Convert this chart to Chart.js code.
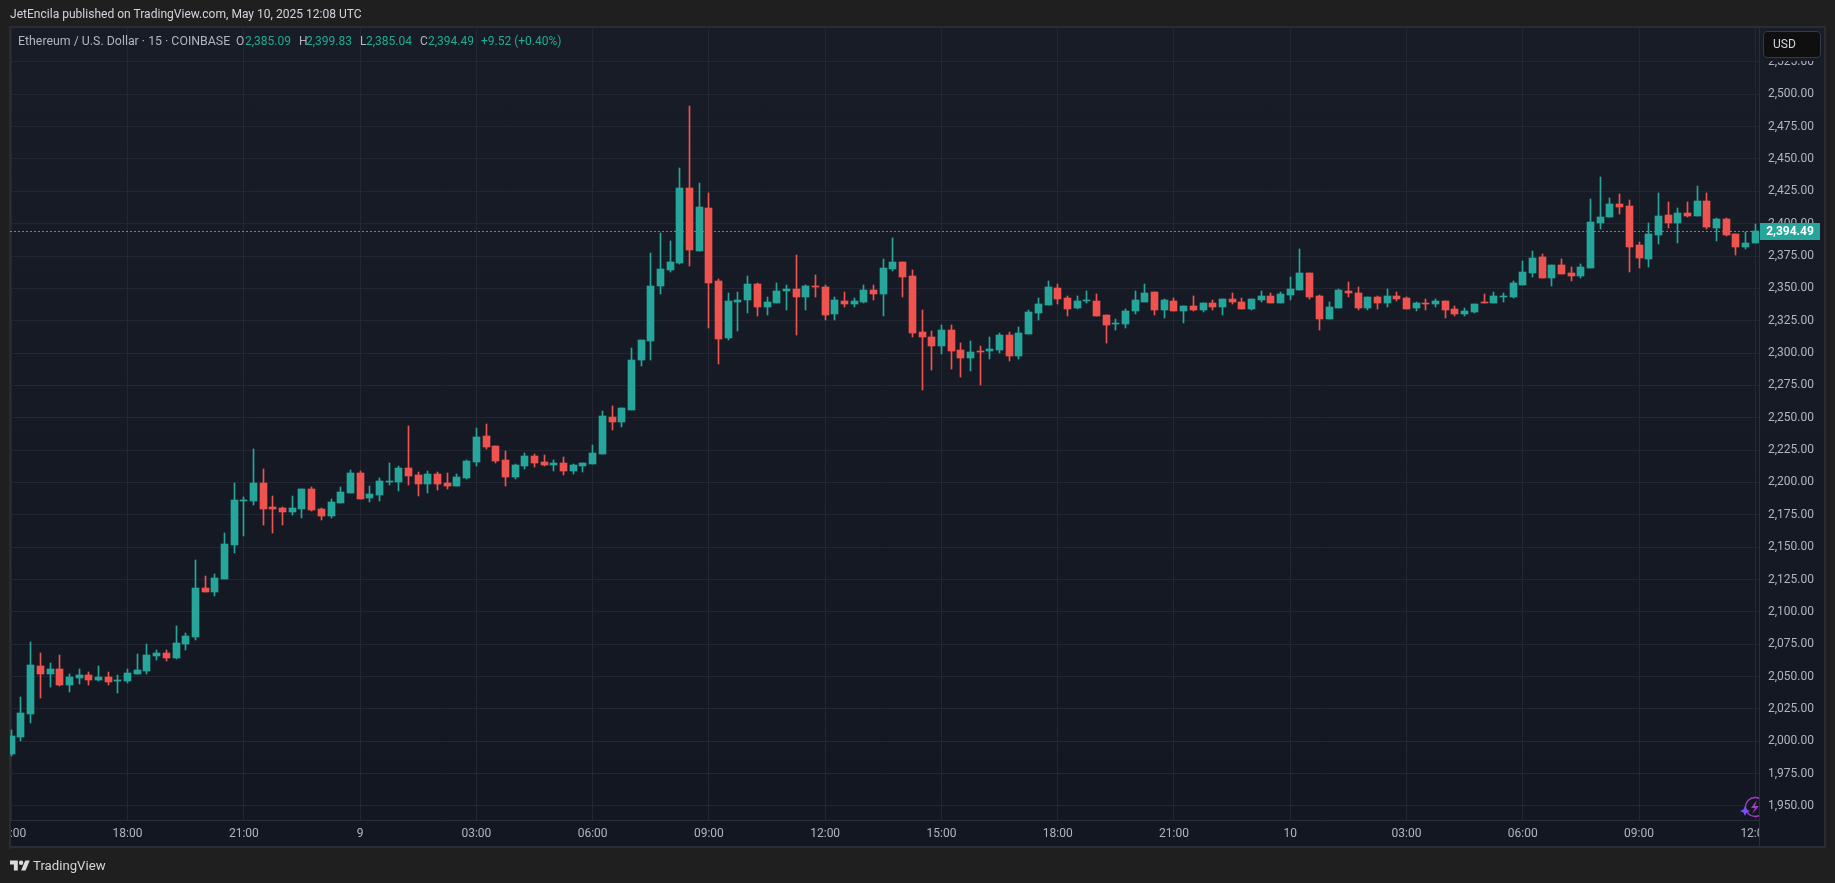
<!DOCTYPE html>
<html>
<head>
<meta charset="utf-8">
<title>ETHUSD 15</title>
<script src="https://cdn.jsdelivr.net/npm/chart.js@4/dist/chart.umd.min.js"></script>
<style>
    html, body { margin: 0; padding: 0; background: #1f1f1f; overflow: hidden; }
    body { width: 1835px; height: 883px; position: relative; font-family: Roboto, sans-serif; }
    #pane { position: absolute; left: 9px; top: 26px; width: 1813px; height: 818px; border: 2px solid #2a2c33;
            background: linear-gradient(#181c27, #131722); }
    #chart { position: absolute; left: 0; top: 0; }
    .over { position: absolute; z-index: 2; }
    #published { left: 10px; top: 7px; font-size: 12.05px; line-height: 15px; color: #d1d4dc; white-space: nowrap; }
    #legend span { position: absolute; top: 34px; font-size: 12px; line-height: 15px; white-space: nowrap; color: #b2b5be; z-index: 2; }
    #legend span.name { font-size: 12.35px; }
    #legend span.val { color: #22ab94; }
    #usd { left: 1763px; top: 31px; width: 56px; height: 25px; background: #0f0f0f; border: 1px solid #363a45; border-radius: 4px;
           color: #d1d4dc; font-size: 12px; line-height: 25px; text-indent: 9px; box-shadow: 0 3px 0 #171b26; }
    #leftEdge { left: 0; top: 821px; width: 9px; height: 28px; background: #1f1f1f; border-right: 2px solid #2a2c33; }
    #corner { left: 1759px; top: 821px; width: 64px; height: 25px; background: #131722; border-left: 1px solid #2a2e39; }
    #bolt { left: 1740px; top: 796px; width: 19px; height: 24px; overflow: hidden; }
    #logo { left: 10px; top: 860px; width: 20px; height: 11px; }
    #brand { left: 33px; top: 858px; font-size: 13.2px; line-height: 16px; color: #d6d6d6; }
</style>
</head>
<body>
<div id="pane"></div>
<canvas id="chart" width="1835" height="883"></canvas>

<div class="over" id="published">JetEncila published on TradingView.com, May 10, 2025 12:08 UTC</div>
<div id="legend"></div>
<div class="over" id="usd">USD</div>
<div class="over" id="leftEdge"></div>
<div class="over" id="corner"></div>
<svg class="over" id="bolt" viewBox="0 0 19 24">
    <circle cx="15" cy="11" r="9.5" fill="#131722" stroke="#a63fc4" stroke-width="1.4"/>
    <path d="M17 4 L11 12 H15 L12 18 L19 10 H15 Z" fill="#a63fc4"/>
    <path d="M5 10 L6.6 13.4 L10 15 L6.6 16.6 L5 20 L3.4 16.6 L0 15 L3.4 13.4 Z" fill="#7b4dff"/>
</svg>
<svg class="over" id="logo" viewBox="0 4 36 18">
    <path fill="#dbdbdb" d="M14 22H7V11H0V4h14v18zM28 22h-8l7.5-18h8L28 22z"/>
    <circle fill="#dbdbdb" cx="20" cy="8" r="4"/>
</svg>
<div class="over" id="brand">TradingView</div>

<script>
// 15 minute candles, first one is 15:00 on May 8, last one is 12:00 on May 10
const opens = [
    1990.2, 2003.3, 2021.1, 2058.2, 2052, 2055.9, 2043.5, 2048.9, 2051.2, 2047.4,
    2049.7, 2047.2, 2046.6, 2052, 2054.3, 2065.9, 2068.2, 2064.4, 2075.2, 2080.6,
    2118.5, 2115.4, 2125.4, 2151.7, 2186.2, 2185.7, 2199.6, 2181.1, 2180.3, 2177.2,
    2179.6, 2195, 2179.6, 2174.2, 2184.2, 2191.9, 2207.4, 2188.1, 2190.4, 2200.9,
    2200.4, 2211.2, 2205.8, 2198.9, 2206.6, 2199.7, 2197.3, 2203.5, 2215.9, 2236,
    2228.3, 2217.4, 2204.3, 2212.8, 2220.5, 2215.9, 2213.6, 2215.1, 2208.9, 2212.8,
    2214.3, 2222, 2250.6, 2246.7, 2256, 2294.6, 2309.3, 2351.8, 2364.2, 2369.6,
    2427.6, 2378.9, 2412.1, 2355.7, 2311.6, 2339.5, 2341, 2353.4, 2335.6, 2338.7,
    2348, 2349.5, 2343.3, 2351.8, 2351, 2330.2, 2340.2, 2337.9, 2339.5, 2348.7,
    2345.6, 2365, 2370.4, 2359.5, 2316.3, 2312.4, 2305.5, 2317.8, 2302.4, 2296.2,
    2301.6, 2301.6, 2302.4, 2314, 2297.7, 2314.7, 2331, 2337.1, 2350.3, 2342.6,
    2334.8, 2340.2, 2340.2, 2329.4, 2322.5, 2322.5, 2332.5, 2339.5, 2347.2, 2333.3,
    2340.2, 2332.5, 2336.4, 2333.3, 2338.7, 2335.6, 2341.8, 2339.5, 2334, 2341,
    2344.1, 2338.7, 2344.9, 2348.7, 2361.9, 2344.1, 2326.3, 2334.8, 2347.9, 2346.4,
    2334.8, 2343.3, 2338.7, 2344.1, 2342.6, 2334.8, 2338.7, 2337.9, 2340.2, 2334,
    2330.2, 2331.7, 2339.5, 2338.7, 2343.3, 2343.3, 2352.6, 2361.9, 2374.2, 2358,
    2368.1, 2361.9, 2359.6, 2365.7, 2400.5, 2405.1, 2415.2, 2413.7, 2383.5, 2372.7,
    2391.2, 2406.7, 2400.5, 2408.2, 2405.9, 2417.5, 2396.6, 2403.6, 2392, 2382,
    2385.09
];
const highs = [
    2008.7, 2034.2, 2076.7, 2068.2, 2060.5, 2066.7, 2052, 2055.9, 2053.5, 2058.2,
    2053.5, 2051.2, 2055.9, 2067.5, 2075.2, 2070.5, 2070.5, 2089.1, 2083.7, 2140.1,
    2127.7, 2129.3, 2161, 2199.6, 2188.8, 2225.9, 2210.4, 2189.6, 2181.1, 2189.6,
    2195, 2196.6, 2180.3, 2187.3, 2196.6, 2209.7, 2208.9, 2197.3, 2203.5, 2215.1,
    2212.8, 2243.7, 2208.2, 2208.9, 2208.2, 2207.4, 2206.6, 2217.4, 2242.2, 2245.3,
    2228.3, 2224.4, 2214.3, 2222.8, 2222.1, 2221.3, 2217.4, 2219.8, 2214.3, 2215.1,
    2229, 2255.2, 2259.1, 2257.6, 2303.9, 2310.1, 2377.3, 2392.8, 2386.6, 2443,
    2490.9, 2431.4, 2423.7, 2357.2, 2346.4, 2347.2, 2359.6, 2354.1, 2343.3, 2354.1,
    2352.6, 2375.8, 2352.6, 2360.3, 2352.6, 2343.3, 2347.2, 2342.6, 2352.6, 2352.6,
    2372.7, 2388.9, 2370.4, 2364.2, 2333.3, 2317.1, 2321.7, 2321.7, 2307.8, 2309.3,
    2305.5, 2312.4, 2315.5, 2316.3, 2320.1, 2333.3, 2342.6, 2355.7, 2353.4, 2344.1,
    2344.1, 2347.9, 2345.6, 2329.4, 2326.3, 2334, 2347.9, 2353.4, 2347.2, 2341.8,
    2342.6, 2336.4, 2344.1, 2338.7, 2341, 2341.8, 2346.4, 2342.6, 2341.8, 2347.9,
    2346.4, 2347.2, 2358.8, 2380.4, 2361.9, 2344.9, 2339.5, 2349.5, 2354.9, 2351.1,
    2343.3, 2344.1, 2349.5, 2347.2, 2343.3, 2339.5, 2341.8, 2341.8, 2340.2, 2336.4,
    2334.8, 2337.9, 2345.6, 2347.2, 2346.4, 2355.7, 2371.1, 2378.9, 2376.6, 2368.1,
    2372.7, 2366.5, 2368.8, 2419, 2436, 2419.8, 2422.9, 2418.3, 2385.8, 2400.5,
    2423.7, 2416.7, 2412.1, 2416.7, 2429.1, 2423.7, 2404.4, 2404.4, 2392, 2393.6,
    2399.83
];
const lows = [
    1988.9, 2000.2, 2014.1, 2033.5, 2042, 2042.7, 2038.1, 2044.3, 2043.5, 2046.6,
    2043.5, 2037.3, 2045, 2052, 2052, 2062.8, 2062, 2063.6, 2070.5, 2078.3,
    2115.4, 2112.3, 2125.4, 2145.5, 2158.7, 2182.6, 2167.2, 2161, 2167.2, 2174.9,
    2172.6, 2178, 2171, 2172.6, 2184.2, 2191.9, 2187.3, 2185, 2185.7, 2198.1,
    2193.5, 2198.1, 2189.6, 2191.9, 2194.2, 2195, 2197.3, 2202.7, 2212.8, 2225.9,
    2215.1, 2197.3, 2202.7, 2210.5, 2212, 2212.8, 2208.9, 2205.8, 2206.6, 2208.2,
    2214.3, 2222, 2240.5, 2242.9, 2256, 2290, 2294.6, 2345.6, 2362.6, 2368.8,
    2367.3, 2378.9, 2319.4, 2291.5, 2310.1, 2317.1, 2331, 2328.6, 2329.4, 2338.7,
    2333.3, 2314, 2333.3, 2343.3, 2325.6, 2325.6, 2335.6, 2335.6, 2338.7, 2341,
    2328.6, 2363.4, 2343.3, 2312.4, 2271.4, 2286.9, 2299.3, 2287.7, 2281.5, 2286.1,
    2275.3, 2295.4, 2300, 2293.9, 2295.4, 2314.7, 2325.5, 2337.1, 2337.9, 2328.6,
    2334, 2338.7, 2328.6, 2307.8, 2317.8, 2319.4, 2330.2, 2339.5, 2329.4, 2327.1,
    2332.5, 2323.2, 2332.5, 2331.7, 2333.3, 2329.4, 2337.9, 2334, 2333.3, 2339.5,
    2338.7, 2338.7, 2341, 2348.7, 2341.8, 2317.8, 2326.3, 2334.8, 2343.3, 2333.3,
    2333.3, 2334, 2335.6, 2340.2, 2334, 2332.5, 2333.3, 2335.6, 2327.1, 2328.6,
    2328.6, 2330.9, 2338.7, 2338.7, 2339.5, 2342.6, 2352.6, 2358.8, 2358, 2351.8,
    2361.1, 2355.7, 2358, 2365.7, 2395.9, 2405.1, 2407.5, 2362.6, 2365.7, 2366.5,
    2384.3, 2396.6, 2385, 2405.1, 2405.9, 2395.9, 2386.6, 2390.5, 2375.8, 2380.4,
    2385.04
];
const closes = [
    2004.1, 2021.9, 2059, 2052, 2055.9, 2043.5, 2049.7, 2051.2, 2047.4, 2049.7,
    2045.8, 2047.4, 2052.8, 2055.1, 2066.7, 2068.2, 2064.4, 2075.9, 2081.4, 2118.5,
    2115.4, 2126.2, 2152.5, 2186.5, 2186.4, 2199.6, 2179.5, 2179.5, 2177.2, 2180.3,
    2195, 2178.8, 2174.2, 2185, 2192.7, 2207.4, 2187.3, 2191.2, 2201.2, 2201.1,
    2211.2, 2205.1, 2198.9, 2206.6, 2198.9, 2197.3, 2204.3, 2216.7, 2235.2, 2227.5,
    2216.7, 2204.3, 2213.6, 2220.5, 2215.1, 2213.6, 2215.1, 2208.9, 2213.6, 2215.1,
    2222.8, 2251.4, 2246.7, 2257.6, 2294.6, 2310.1, 2351.8, 2365, 2370.4, 2427.6,
    2379.6, 2412.9, 2354.1, 2310.9, 2340.2, 2341, 2353.4, 2335.6, 2339.5, 2348,
    2349.5, 2343.3, 2351.8, 2351, 2329.4, 2341, 2337.9, 2340.2, 2348.7, 2345.6,
    2365.7, 2370.4, 2358.8, 2315.5, 2312.4, 2305.5, 2317.8, 2301.6, 2296.2, 2300.8,
    2300.8, 2303.1, 2314, 2297.7, 2315.5, 2331.7, 2337.9, 2351.1, 2341.8, 2334,
    2340.2, 2341, 2328.6, 2321.7, 2323.2, 2332.5, 2341, 2346.4, 2333.3, 2341,
    2332.5, 2336.4, 2333.3, 2338.7, 2335.6, 2341.8, 2339.5, 2334, 2341.8, 2344.1,
    2338.7, 2345.6, 2349.5, 2361.9, 2343.3, 2326.3, 2335.6, 2348.7, 2346.4, 2334.8,
    2343.3, 2338.7, 2344.1, 2341.8, 2334, 2338.7, 2337.9, 2340.2, 2333.3, 2330.2,
    2332.5, 2337.9, 2338.7, 2344.1, 2344.1, 2354.1, 2362.6, 2373.5, 2358, 2368.1,
    2361.1, 2359.6, 2366.5, 2401.3, 2405.1, 2415.2, 2412.9, 2382, 2373.5, 2392,
    2405.9, 2400.5, 2408.2, 2405.9, 2417.5, 2397.4, 2403.6, 2391.2, 2382, 2384.97,
    2394.49
];

// price axis
const priceTicks = [
    1950, 1975, 2000, 2025, 2050, 2075, 2100, 2125, 2150, 2175, 2200, 2225,
    2250, 2275, 2300, 2325, 2350, 2375, 2400, 2425, 2450, 2475, 2500, 2525
];
// time axis, one label every 12 candles
const timeTickIndex = [0, 12, 24, 36, 48, 60, 72, 84, 96, 108, 120, 132, 144, 156, 168, 180];
const timeTickLabels = ['15:00', '18:00', '21:00', '9', '03:00', '06:00', '09:00', '12:00',
                        '15:00', '18:00', '21:00', '10', '03:00', '06:00', '09:00', '12:00'];

const UP = '#26a69a';
const DOWN = '#ef5350';
const GRID = '#232733';
const AXIS = '#2a2e39';
const TEXT = '#b2b5be';
const X_MIN = -0.134;
const X_MAX = 180.38;

const lastIndex = closes.length - 1;
const candleColors = closes.map((c, i) => (c >= opens[i] ? UP : DOWN));
const money = (v) => v.toLocaleString('en-US', { minimumFractionDigits: 2, maximumFractionDigits: 2 });

function fillLegend() {
    const change = closes[lastIndex] - closes[lastIndex - 1];
    const pct = change / closes[lastIndex - 1] * 100;
    const parts = [
        [18, 'Ethereum / U.S. Dollar · 15 · COINBASE', 'name'],
        [236, 'O', ''], [245, money(opens[lastIndex]), 'val'],
        [299, 'H', ''], [306, money(highs[lastIndex]), 'val'],
        [360, 'L', ''], [366, money(lows[lastIndex]), 'val'],
        [420, 'C', ''], [428, money(closes[lastIndex]), 'val'],
        [481, '+' + change.toFixed(2) + ' (+' + pct.toFixed(2) + '%)', 'val']
    ];
    const legend = document.getElementById('legend');
    parts.forEach(([left, text, cls]) => {
        const span = document.createElement('span');
        span.textContent = text;
        span.className = cls;
        span.style.left = left + 'px';
        legend.appendChild(span);
    });
}

// tradingview snaps candles to whole pixels, so do the same after the scales placed them
const snapCandles = {
    id: 'snapCandles',
    afterDatasetsUpdate(chart) {
        chart.getSortedVisibleDatasetMetas().forEach((meta) => {
            meta.data.forEach((el) => {
                if (meta.type === 'bar') {
                    el.x = Math.floor(el.x) + 0.5;
                    el.y = Math.round(el.y);
                    el.base = Math.round(el.base);
                    if (el.base === el.y) el.base = el.y + 1;
                    el.height = el.base - el.y;
                } else {
                    el.y = Math.round(el.y) + 0.5;
                }
            });
        });
    }
};

const priceTag = {
    id: 'priceTag',
    afterDraw(chart) {
        const ctx = chart.ctx;
        const y = Math.round(chart.scales.y.getPixelForValue(closes[lastIndex])) + 0.5;
        ctx.save();
        ctx.fillStyle = UP;
        ctx.fillRect(1760, y - 8.5, 60, 17);
        ctx.fillStyle = '#ffffff';
        ctx.font = 'bold 12px Roboto';
        ctx.textAlign = 'center';
        ctx.textBaseline = 'middle';
        ctx.fillText(money(closes[lastIndex]), 1790, y + 0.5);
        ctx.restore();
    }
};

fillLegend();

new Chart(document.getElementById('chart'), {
    data: {
        datasets: [
            {
                type: 'bar',
                order: 1,
                grouped: false,
                barThickness: 7,
                backgroundColor: candleColors,
                data: opens.map((o, i) => ({ x: i, y: [o, closes[i]] }))
            },
            {
                type: 'bar',
                order: 2,
                grouped: false,
                barThickness: 1,
                backgroundColor: candleColors,
                data: lows.map((l, i) => ({ x: i, y: [l, highs[i]] }))
            },
            {
                type: 'line',
                order: 3,
                borderColor: UP,
                borderWidth: 1,
                borderDash: [2, 2],
                pointRadius: 0,
                data: [{ x: X_MIN, y: closes[lastIndex] }, { x: X_MAX, y: closes[lastIndex] }]
            }
        ]
    },
    options: {
        responsive: false,
        animation: false,
        devicePixelRatio: 1,
        layout: { padding: { left: 10, right: 10, top: 28, bottom: 36 } },
        plugins: { legend: { display: false }, tooltip: { enabled: false } },
        scales: {
            x: {
                type: 'linear',
                offset: false,
                min: X_MIN,
                max: X_MAX,
                afterBuildTicks(scale) {
                    scale.ticks = timeTickIndex.map((value) => ({ value }));
                },
                afterFit(scale) {
                    scale.height = 27;
                    scale.paddingLeft = 0;
                    scale.paddingRight = 0;
                },
                grid: { color: GRID, drawTicks: false, offset: false },
                border: { color: AXIS },
                ticks: {
                    autoSkip: false,
                    maxRotation: 0,
                    padding: 7,
                    color: TEXT,
                    font: { family: 'Roboto', size: 12 },
                    callback: (value) => timeTickLabels[timeTickIndex.indexOf(value)]
                }
            },
            y: {
                position: 'right',
                min: 1939.18,
                max: 2551.2,
                afterBuildTicks(scale) {
                    scale.ticks = priceTicks.map((value) => ({ value }));
                },
                afterFit(scale) {
                    scale.width = 66;
                    scale.paddingTop = 0;
                    scale.paddingBottom = 0;
                },
                grid: { color: GRID, drawTicks: false },
                border: { color: AXIS },
                ticks: {
                    padding: 9,
                    color: TEXT,
                    font: { family: 'Roboto', size: 12 },
                    callback: (value) => money(value)
                }
            }
        }
    },
    plugins: [snapCandles, priceTag]
});
</script>
</body>
</html>
